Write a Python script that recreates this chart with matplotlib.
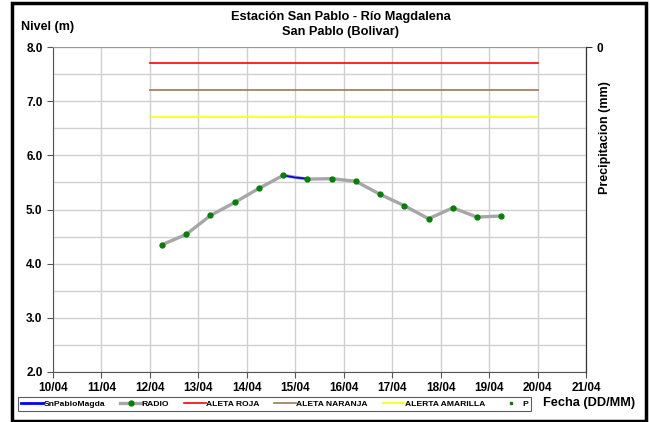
import matplotlib
matplotlib.use("Agg")
import matplotlib.pyplot as plt
from matplotlib.lines import Line2D
from matplotlib.patches import Rectangle
import matplotlib.ticker as mticker
import datetime as dt

plt.rcParams['font.family'] = ['Liberation Sans', 'DejaVu Sans']
plt.rcParams['font.weight'] = 'bold'

# Data
radio_times = ["2024-04-12 06:00", "2024-04-12 18:00", "2024-04-13 06:00", "2024-04-13 18:00",
               "2024-04-14 06:00", "2024-04-14 18:00", "2024-04-15 06:00", "2024-04-15 18:00",
               "2024-04-16 06:00", "2024-04-16 18:00", "2024-04-17 06:00", "2024-04-17 18:00",
               "2024-04-18 06:00", "2024-04-18 18:00", "2024-04-19 06:00"]
radio_levels = [4.35, 4.54, 4.89, 5.13, 5.39, 5.63, 5.56, 5.57, 5.52, 5.28, 5.07, 4.83, 5.03, 4.86, 4.88]
sensor_times = ["2024-04-14 18:00", "2024-04-15 00:00", "2024-04-15 06:00"]
sensor_levels = [5.63, 5.59, 5.57]
alert_start = "2024-04-12 00:00"
alert_end = "2024-04-20 00:00"
alerta_roja = 7.7
alerta_naranja = 7.2
alerta_amarilla = 6.7
x_ticks = ["10/04", "11/04", "12/04", "13/04", "14/04", "15/04", "16/04", "17/04", "18/04", "19/04", "20/04", "21/04"]

def P(s):
    return dt.datetime.strptime(s, "%Y-%m-%d %H:%M")

rt = [P(t) for t in radio_times]
st = [P(t) for t in sensor_times]
a0, a1 = P(alert_start), P(alert_end)
xstart = dt.datetime(2024, 4, 10)
xend = dt.datetime(2024, 4, 21)

fig = plt.figure(figsize=(6.5, 4.22), dpi=100)
ax = fig.add_axes([53/650, 1-372/422, (586-53)/650, (372-47)/422])

ax.set_xlim(xstart, xend)
ax.set_ylim(2.0, 8.0)
ax.set_xticks([xstart + dt.timedelta(days=i) for i in range(12)])
ax.set_xticklabels(x_ticks)
ax.set_yticks([2, 3, 4, 5, 6, 7, 8])
ax.set_yticks([2.5, 3.5, 4.5, 5.5, 6.5, 7.5], minor=True)
ax.yaxis.set_major_formatter(mticker.FormatStrFormatter('%.1f'))
ax.grid(True, which='both', color='#d0d0d0', linewidth=1.0)
ax.set_axisbelow(True)
ax.tick_params(axis='both', which='major', direction='out', length=4, labelsize=8.5, color='#555555')
ax.tick_params(axis='x', pad=3)
ax.tick_params(axis='y', which='minor', length=0)
for lbl in ax.get_xticklabels() + ax.get_yticklabels():
    lbl.set_fontweight('bold')
for s in ['left', 'bottom']:
    ax.spines[s].set_color('#555555')
ax.spines['top'].set_color('#999999')
ax.spines['right'].set_color('#333333')

ax.plot([a0, a1], [alerta_roja]*2, color='#ff0000', lw=1.2, zorder=3)
ax.plot([a0, a1], [alerta_naranja]*2, color='#a07850', lw=1.2, zorder=3)
ax.plot([a0, a1], [alerta_amarilla]*2, color='#ffff00', lw=1.2, zorder=3)
ax.plot(rt, radio_levels, color='#a6a6a6', lw=2.4, zorder=4)
ax.plot(st, sensor_levels, color='#0000ff', lw=1.3, zorder=5)
ax.plot(rt, radio_levels, 'o', color='#008000', ms=3.5, zorder=6)

ax2 = ax.twinx()
ax2.set_ylim(100, 0)
ax2.set_yticks([0])
ax2.tick_params(axis='y', direction='out', length=4, labelsize=8.5, color='#333333')
for lbl in ax2.get_yticklabels():
    lbl.set_fontweight('bold')
ax2.set_ylabel('Precipitacion (mm)', fontsize=9, fontweight='bold')
ax2.yaxis.set_label_coords((599-53)/533, (372-138)/325)
for s in ax2.spines.values():
    s.set_visible(False)
ax2.spines['right'].set_visible(True)
ax2.spines['right'].set_color('#333333')

fig.text(341/650, 1-17/422, 'Estación San Pablo - Río Magdalena', ha='center', va='center', fontsize=9.2, fontweight='bold')
fig.text(341/650, 1-32/422, 'San Pablo (Bolivar)', ha='center', va='center', fontsize=9.2, fontweight='bold')
fig.text(21/650, 1-27/422, 'Nivel (m)', ha='left', va='center', fontsize=9, fontweight='bold')
fig.text(543/650, 1-403/422, 'Fecha (DD/MM)', ha='left', va='center', fontsize=9.2, fontweight='bold')

handles = [
    Line2D([], [], color='#0000ff', lw=2),
    Line2D([], [], color='#a6a6a6', lw=2.4, marker='o', markerfacecolor='#008000', markeredgecolor='#008000', ms=3.5),
    Line2D([], [], color='#ff0000', lw=1.2),
    Line2D([], [], color='#a07850', lw=1.2),
    Line2D([], [], color='#ffff00', lw=1.2),
    Line2D([], [], color='#008000', lw=0, marker='s', ms=2),
]
labels = ['SnPabloMagda', 'RADIO', 'ALETA ROJA', 'ALETA NARANJA', 'ALERTA AMARILLA', 'P']
leg = fig.legend(handles, labels, loc='center', bbox_to_anchor=(274.5/650, 1-404/422), ncol=6,
                 fontsize=6.1, frameon=True, fancybox=False, edgecolor='#333333',
                 handlelength=2.6, handletextpad=0.0, columnspacing=1.75, borderpad=0.35)
leg.get_frame().set_linewidth(0.8)
for t in leg.get_texts():
    t.set_fontweight('bold')

fig.add_artist(Rectangle((11.5/650, 1.5/422), (646-11.5)/650, (419-1.5)/422, transform=fig.transFigure,
                         fill=False, edgecolor='black', linewidth=2.5))

fig.savefig('out.png', dpi=100)
